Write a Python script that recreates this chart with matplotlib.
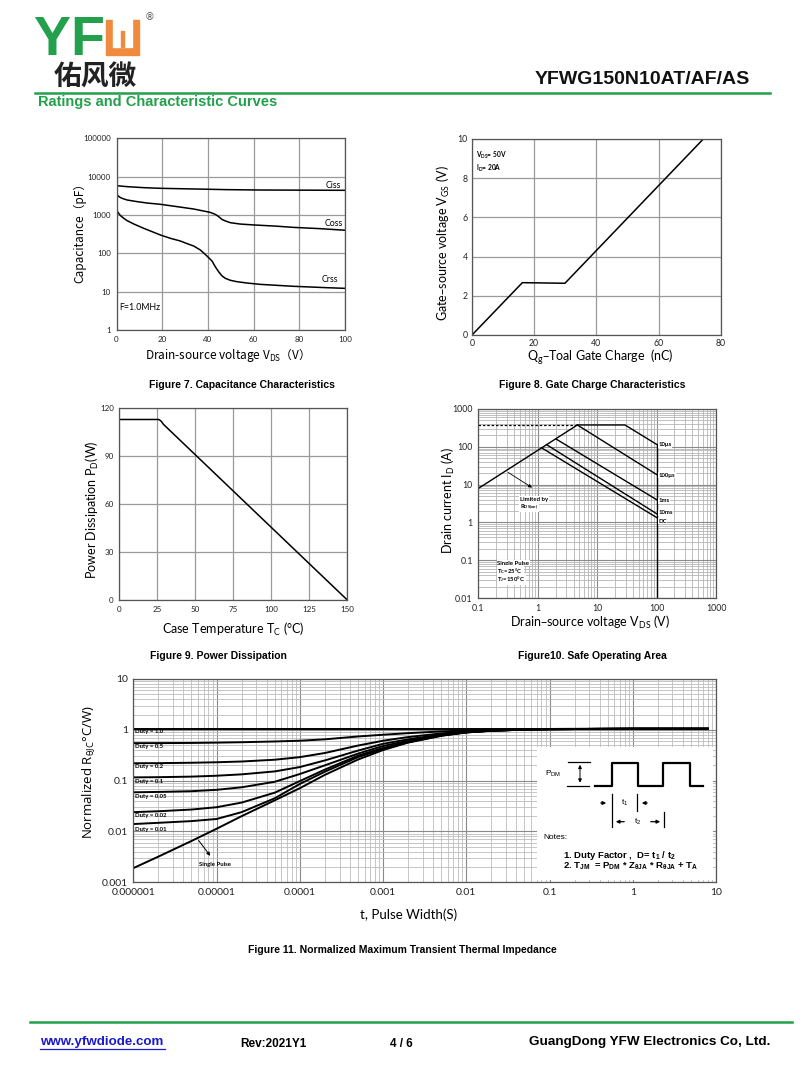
import numpy as np
import matplotlib
matplotlib.use('Agg')
import matplotlib.pyplot as plt
from matplotlib.patches import Rectangle
from matplotlib.lines import Line2D
from matplotlib.ticker import LogLocator, FixedLocator, FixedFormatter, NullFormatter

plt.rcParams['font.family'] = ['Lato', 'DejaVu Sans']
plt.rcParams['mathtext.default'] = 'regular'

# ---------------- data ----------------
# Figure 7: capacitance vs VDS
ciss_v = [0, 4.66, 11.9, 19.2, 33.8, 48.3, 62.9, 100]
ciss_pf = [5820, 5480, 5160, 4960, 4770, 4580, 4480, 4400]
coss_v = [0, 0.58, 1.75, 3.2, 4.66, 9.0, 13.4, 19.2, 26.5, 33.8, 38.1, 41.0, 43.2,
          44.7, 46.1, 47.6, 49.8, 54.1, 60.0, 70.2, 77.4, 89.1, 100]
coss_pf = [3680, 3190, 2830, 2620, 2460, 2230, 2050, 1900, 1650, 1430, 1270, 1170, 1040,
           910, 770, 700, 630, 580, 550, 510, 475, 440, 400]
crss_v = [0, 0.58, 1.75, 3.2, 4.66, 7.57, 11.9, 16.3, 19.2, 23.6, 27.9, 30.9, 33.8, 36.7,
          39.6, 41.8, 43.2, 44.7, 46.1, 47.6, 49.8, 52.7, 57.1, 62.9, 77.4, 92, 100]
crss_pf = [1493, 1175, 962, 818, 711, 582, 449, 353, 301, 246, 210, 179, 155, 122,
           85, 63, 45, 33, 26, 22.3, 19.8, 18.2, 16.8, 15.5, 13.8, 12.7, 12.2]
cap_yticks = [1, 10, 100, 1000, 10000, 100000]
cap_yticklabels = ['1', '10', '100', '1000', '10000', '100000']
cap_xticks = [0, 20, 40, 60, 80, 100]

# Figure 8: gate charge
qg_nc = [0, 16.2, 29.9, 74.4]
vgs_v = [0, 2.67, 2.64, 10]
qg_xticks = [0, 20, 40, 60, 80]
qg_yticks = [0, 2, 4, 6, 8, 10]

# Figure 9: power dissipation
tc_c = [0, 26, 27.5, 29, 150]
pd_w = [113, 113, 112, 110, 0]
tc_xticks = [0, 25, 50, 75, 100, 125, 150]
pd_yticks = [0, 30, 60, 90, 120]

# Figure 10: safe operating area
rds_v = [0.1, 4.64]
rds_i = [7.9, 378]
dash_v = [0.1, 4.64]
dash_i = [378, 378]
us10_v = [4.64, 29.4, 100]
us10_i = [378, 378, 116]
us100_v = [4.64, 100]
us100_i = [378, 18.5]
ms1_v = [2.03, 100]
ms1_i = [161, 4.0]
ms10_v = [1.41, 100]
ms10_i = [114, 1.7]
dc_v = [1.16, 100]
dc_i = [94, 1.35]
vlim_v = [100, 100]
vlim_i = [0.01, 116]
soa_labels = ['10μs', '100μs', '1ms', '10ms', 'DC']
soa_label_i = [112, 17.5, 3.7, 1.8, 1.08]
soa_xticks = [0.1, 1, 10, 100, 1000]
soa_xticklabels = ['0.1', '1', '10', '100', '1000']
soa_yticks = [0.01, 0.1, 1, 10, 100, 1000]
soa_yticklabels = ['0.01', '0.1', '1', '10', '100', '1000']

# Figure 11: transient thermal impedance
tp_s = [1e-6, 2e-6, 5e-6, 1e-5, 2e-5, 5e-5, 1e-4, 2e-4, 5e-4, 1e-3, 2e-3, 5e-3,
        1e-2, 2e-2, 5e-2, 0.1, 0.3, 1, 8]
z_d10 = [1.05, 1.05, 1.05, 1.05, 1.05, 1.05, 1.05, 1.05, 1.05, 1.05, 1.05, 1.05,
         1.05, 1.05, 1.05, 1.05, 1.05, 1.05, 1.05]
z_d05 = [0.547, 0.548, 0.552, 0.56, 0.57, 0.59, 0.61, 0.65, 0.74, 0.80, 0.86, 0.93,
         0.97, 1.0, 1.03, 1.04, 1.05, 1.05, 1.05]
z_d02 = [0.22, 0.221, 0.225, 0.23, 0.238, 0.258, 0.29, 0.35, 0.49, 0.61, 0.72, 0.85,
         0.93, 0.98, 1.02, 1.03, 1.04, 1.05, 1.05]
z_d01 = [0.116, 0.117, 0.12, 0.125, 0.133, 0.152, 0.185, 0.25, 0.39, 0.53, 0.65, 0.81,
         0.91, 0.97, 1.01, 1.03, 1.04, 1.05, 1.05]
z_d005 = [0.059, 0.060, 0.062, 0.066, 0.074, 0.095, 0.135, 0.20, 0.34, 0.48, 0.61, 0.79,
          0.90, 0.96, 1.01, 1.03, 1.04, 1.05, 1.05]
z_d002 = [0.024, 0.025, 0.027, 0.030, 0.037, 0.058, 0.098, 0.165, 0.31, 0.44, 0.58, 0.78,
          0.89, 0.96, 1.01, 1.03, 1.04, 1.05, 1.05]
z_d001 = [0.014, 0.0148, 0.016, 0.0176, 0.024, 0.045, 0.086, 0.15, 0.29, 0.42, 0.57, 0.77,
          0.89, 0.96, 1.01, 1.03, 1.04, 1.05, 1.05]
z_single = [0.0019, 0.0032, 0.0065, 0.0113, 0.020, 0.041, 0.071, 0.13, 0.26, 0.40, 0.56,
            0.76, 0.89, 0.96, 1.01, 1.03, 1.04, 1.05, 1.05]
duty_labels = ['Duty = 1.0', 'Duty = 0.5', 'Duty = 0.2', 'Duty = 0.1',
               'Duty = 0.05', 'Duty = 0.02', 'Duty = 0.01']
duty_label_y = [0.93, 0.48, 0.19, 0.097, 0.049, 0.0205, 0.0108]
zth_xticks = [1e-6, 1e-5, 1e-4, 1e-3, 1e-2, 1e-1, 1, 10]
zth_xticklabels = ['0.000001', '0.00001', '0.0001', '0.001', '0.01', '0.1', '1', '10']
zth_yticks = [0.001, 0.01, 0.1, 1, 10]
zth_yticklabels = ['0.001', '0.01', '0.1', '1', '10']

# ---------------- figure ----------------
W, H = 800, 1081
fig = plt.figure(figsize=(8, 10.81), dpi=100)
GREEN = '#22A04B'
ORANGE = '#F08A3C'
GRID = '#9a9a9a'
CAP_FONT = 'Liberation Sans'


def axpx(l, t, r, b):
    return fig.add_axes([l / W, 1 - b / H, (r - l) / W, (b - t) / H])


def ftxt(x, y, s, **kw):
    return fig.text(x / W, 1 - y / H, s, **kw)


def style(ax, size, pad=4):
    for s in ax.spines.values():
        s.set_color('#555555')
        s.set_linewidth(0.9)
    ax.tick_params(which='both', length=0, labelsize=size, pad=pad, colors='#222222')
    ax.set_axisbelow(True)


# ---- header ----
ftxt(33, 55, '$YF$', fontsize=40, fontweight='bold', color=GREEN, family=CAP_FONT,
     ha='left', va='baseline')
fig.add_artist(Rectangle((106 / W, 1 - 55 / H), 33 / W, 35 / H, color=ORANGE,
                         transform=fig.transFigure))
fig.add_artist(Rectangle((113 / W, 1 - 47 / H), 19 / W, 28 / H, color='white',
                         transform=fig.transFigure))
fig.add_artist(Rectangle((121 / W, 1 - 47 / H), 3 / W, 16 / H, color=ORANGE,
                         transform=fig.transFigure))
ftxt(150, 17, '®', fontsize=7, color='#555555', ha='center', va='center', family='DejaVu Sans')
ftxt(95, 78, '佑风微', fontsize=20, fontweight='bold', family='Noto Sans CJK SC',
     ha='center', va='center', color='#222222')
ftxt(750, 80, 'YFWG150N10AT/AF/AS', fontsize=14, fontweight='bold', family=CAP_FONT,
     ha='right', va='center', color='#111111')
fig.add_artist(Line2D([35 / W, 770 / W], [1 - 92.5 / H, 1 - 92.5 / H], color=GREEN, lw=1.8))
ftxt(38, 102, 'Ratings and Characteristic Curves', fontsize=10.5, fontweight='bold',
     family=CAP_FONT, color=GREEN, ha='left', va='center')

# ---- Figure 7 ----
ax7 = axpx(116.5, 138.3, 345, 330)
ax7.semilogy(ciss_v, ciss_pf, color='black', lw=1.1)
ax7.semilogy(coss_v, coss_pf, color='black', lw=1.1)
ax7.semilogy(crss_v, crss_pf, color='black', lw=1.1)
ax7.set_xlim(0, 100)
ax7.set_ylim(1, 100000)
ax7.yaxis.set_major_locator(FixedLocator(cap_yticks))
ax7.yaxis.set_major_formatter(FixedFormatter(cap_yticklabels))
ax7.yaxis.set_minor_locator(FixedLocator([]))
ax7.set_xticks(cap_xticks)
ax7.grid(True, which='major', color=GRID, lw=0.9)
style(ax7, 5.8)
ax7.text(95, 6000, 'Ciss', fontsize=6.3, ha='center', va='center')
ax7.text(95, 604, 'Coss', fontsize=6.3, ha='center', va='center')
ax7.text(93.5, 21, 'Crss', fontsize=6.3, ha='center', va='center')
ax7.text(1, 3.8, 'F=1.0MHz', fontsize=6.3, ha='left', va='center')
ftxt(80, 230, 'Capacitance（pF）', fontsize=8.5, rotation=90, ha='center', va='center',
     family='Noto Sans CJK SC')
ftxt(225, 355, 'Drain-source voltage V$_{DS}$（V）', fontsize=8.5, ha='center', va='center',
     family='Noto Sans CJK SC')
ftxt(242, 385, 'Figure 7. Capacitance Characteristics', fontsize=7.5, fontweight='bold',
     family=CAP_FONT, ha='center', va='center')

# ---- Figure 8 ----
ax8 = axpx(472, 139, 720.7, 335)
ax8.plot(qg_nc, vgs_v, color='black', lw=1.1)
ax8.set_xlim(0, 80)
ax8.set_ylim(0, 10)
ax8.set_xticks(qg_xticks)
ax8.set_yticks(qg_yticks)
ax8.grid(True, color=GRID, lw=0.9)
style(ax8, 6.3, pad=3)
ax8.text(1.4, 9.15, 'V$_{DS}$= 50V', fontsize=4.8, fontweight='bold', ha='left', va='center')
ax8.text(1.4, 8.5, 'I$_{D}$= 20A', fontsize=4.8, fontweight='bold', ha='left', va='center')
ftxt(443, 243, 'Gate–source voltage V$_{GS}$ (V)', fontsize=9, rotation=90, ha='center',
     va='center')
ftxt(600, 357, 'Q$_{g}$–Toal Gate Charge  (nC)', fontsize=9, ha='center', va='center')
ftxt(592, 385, 'Figure 8. Gate Charge Characteristics', fontsize=7.5, fontweight='bold',
     family=CAP_FONT, ha='center', va='center')

# ---- Figure 9 ----
ax9 = axpx(119.3, 408.3, 347.3, 600)
ax9.plot(tc_c, pd_w, color='black', lw=1.1)
ax9.set_xlim(0, 150)
ax9.set_ylim(0, 120)
ax9.set_xticks(tc_xticks)
ax9.set_yticks(pd_yticks)
ax9.grid(True, color=GRID, lw=0.9)
style(ax9, 5.8)
ftxt(92, 510, 'Power Dissipation P$_{D}$(W)', fontsize=9, rotation=90, ha='center',
     va='center')
ftxt(233, 629, 'Case Temperature T$_{C}$ (°C)', fontsize=9, ha='center', va='center')
ftxt(218, 656, 'Figure 9. Power Dissipation', fontsize=7.5, fontweight='bold',
     family=CAP_FONT, ha='center', va='center')

# ---- Figure 10 ----
ax10 = axpx(478.3, 409, 716, 598)
ax10.set_xscale('log')
ax10.set_yscale('log')
for xs, ys in [(rds_v, rds_i), (us10_v, us10_i), (us100_v, us100_i), (ms1_v, ms1_i),
               (ms10_v, ms10_i), (dc_v, dc_i), (vlim_v, vlim_i)]:
    ax10.plot(xs, ys, color='black', lw=1.0)
ax10.plot(dash_v, dash_i, color='black', lw=0.9, ls=(0, (2, 1.5)))
ax10.set_xlim(0.1, 1000)
ax10.set_ylim(0.01, 1000)
ax10.xaxis.set_major_locator(FixedLocator(soa_xticks))
ax10.xaxis.set_major_formatter(FixedFormatter(soa_xticklabels))
ax10.yaxis.set_major_locator(FixedLocator(soa_yticks))
ax10.yaxis.set_major_formatter(FixedFormatter(soa_yticklabels))
ax10.xaxis.set_minor_locator(LogLocator(base=10, subs=np.arange(2, 10)))
ax10.yaxis.set_minor_locator(LogLocator(base=10, subs=np.arange(2, 10)))
ax10.xaxis.set_minor_formatter(NullFormatter())
ax10.yaxis.set_minor_formatter(NullFormatter())
ax10.grid(True, which='major', color='#8a8a8a', lw=0.8)
ax10.grid(True, which='minor', color='#b5b5b5', lw=0.6)
style(ax10, 6.3)
for lab, yi in zip(soa_labels, soa_label_i):
    ax10.text(108, yi, lab, fontsize=4.3, fontweight='bold', ha='left', va='center',
              bbox=dict(facecolor='white', edgecolor='none', pad=0.3))
ax10.annotate('', xy=(0.88, 7.6), xytext=(0.29, 23),
              arrowprops=dict(arrowstyle='-|>', color='black', lw=0.6, mutation_scale=5))
ax10.text(0.5, 4.1, 'Limited by', fontsize=4.3, fontweight='bold', ha='left', va='center',
          bbox=dict(facecolor='white', edgecolor='none', pad=0.5))
ax10.text(0.5, 2.55, 'R$_{DS(on)}$', fontsize=4.3, fontweight='bold', ha='left', va='center',
          bbox=dict(facecolor='white', edgecolor='none', pad=0.5))
ax10.text(0.21, 0.083, 'Single Pulse', fontsize=4.3, fontweight='bold', ha='left',
          va='center', bbox=dict(facecolor='white', edgecolor='none', pad=0.5))
ax10.text(0.21, 0.052, 'T$_{C}$=25°C', fontsize=4.3, fontweight='bold', ha='left',
          va='center', bbox=dict(facecolor='white', edgecolor='none', pad=0.5))
ax10.text(0.21, 0.032, 'T$_{J}$=150°C', fontsize=4.3, fontweight='bold', ha='left',
          va='center', bbox=dict(facecolor='white', edgecolor='none', pad=0.5))
ftxt(448, 500, 'Drain current I$_{D}$ (A)', fontsize=9, rotation=90, ha='center',
     va='center')
ftxt(590, 622, 'Drain–source voltage V$_{DS}$ (V)', fontsize=9, ha='center', va='center')
ftxt(592, 656, 'Figure10. Safe Operating Area', fontsize=7.5, fontweight='bold',
     family=CAP_FONT, ha='center', va='center')

# ---- Figure 11 ----
ax11 = axpx(133.3, 679, 716, 882.3)
ax11.set_xscale('log')
ax11.set_yscale('log')
for zs in [z_d10, z_d05, z_d02, z_d01, z_d005, z_d002, z_d001, z_single]:
    ax11.plot(tp_s, zs, color='black', lw=1.4)
ax11.set_xlim(1e-6, 10)
ax11.set_ylim(0.001, 10)
ax11.xaxis.set_major_locator(FixedLocator(zth_xticks))
ax11.xaxis.set_major_formatter(FixedFormatter(zth_xticklabels))
ax11.yaxis.set_major_locator(FixedLocator(zth_yticks))
ax11.yaxis.set_major_formatter(FixedFormatter(zth_yticklabels))
ax11.xaxis.set_minor_locator(LogLocator(base=10, subs=np.arange(2, 10)))
ax11.yaxis.set_minor_locator(LogLocator(base=10, subs=np.arange(2, 10)))
ax11.xaxis.set_minor_formatter(NullFormatter())
ax11.yaxis.set_minor_formatter(NullFormatter())
ax11.grid(True, which='major', color='#8a8a8a', lw=0.8)
ax11.grid(True, which='minor', color='#bdbdbd', lw=0.6)
style(ax11, 7.5)
for lab, yl in zip(duty_labels, duty_label_y):
    ax11.text(1.05e-6, yl, lab, fontsize=4.3, fontweight='bold', ha='left', va='center')
ax11.annotate('', xy=(8.8e-6, 0.0030), xytext=(5.8e-6, 0.0074),
              arrowprops=dict(arrowstyle='-|>', color='black', lw=0.7, mutation_scale=5))
ax11.text(9.6e-6, 0.0022, 'Single Pulse', fontsize=4.3, fontweight='bold', ha='center',
          va='center')
ftxt(88, 772, 'Normalized R$_{θJC}$°C/W)', fontsize=9.5, rotation=90, ha='center',
     va='center', family='Open Sans')
ftxt(409, 915, 't, Pulse Width(S)', fontsize=9.5, ha='center', va='center')
ftxt(402, 950, 'Figure 11. Normalized Maximum Transient Thermal Impedance', fontsize=7.5,
     fontweight='bold', family=CAP_FONT, ha='center', va='center')

# inset diagram (page-pixel coordinates)
axi = axpx(537, 747, 713, 880)
axi.set_xlim(537, 713)
axi.set_ylim(880, 747)
axi.set_xticks([])
axi.set_yticks([])
for s in axi.spines.values():
    s.set_visible(False)
axi.set_facecolor('white')
wave_x = [595, 611.7, 611.7, 638.3, 638.3, 663.3, 663.3, 690, 690, 703.3]
wave_y = [786, 786, 762.7, 762.7, 786, 786, 762.7, 762.7, 786, 786]
axi.plot(wave_x, wave_y, color='black', lw=1.6)
axi.plot([568, 590], [761.7, 761.7], color='black', lw=0.9)
axi.plot([567, 589], [785.7, 785.7], color='black', lw=0.9)
axi.annotate('', xy=(580, 762), xytext=(580, 785.5),
             arrowprops=dict(arrowstyle='<|-|>', color='black', lw=0.7, mutation_scale=5))
axi.text(545, 774, 'P$_{DM}$', fontsize=6, family=CAP_FONT, ha='left', va='center')
axi.plot([611.7, 611.7], [794, 826.7], color='black', lw=0.9)
axi.plot([636.7, 636.7], [794, 811], color='black', lw=0.9)
axi.plot([664.3, 664.3], [812, 826.7], color='black', lw=0.9)
axi.annotate('', xy=(609, 803), xytext=(598, 803),
             arrowprops=dict(arrowstyle='-|>', color='black', lw=0.9, mutation_scale=5))
axi.annotate('', xy=(639, 803), xytext=(650, 803),
             arrowprops=dict(arrowstyle='-|>', color='black', lw=0.9, mutation_scale=5))
axi.text(624.5, 803, 't$_{1}$', fontsize=6, family=CAP_FONT, ha='center', va='center')
axi.annotate('', xy=(613, 821.7), xytext=(627, 821.7),
             arrowprops=dict(arrowstyle='-|>', color='black', lw=0.9, mutation_scale=5))
axi.annotate('', xy=(663, 821.7), xytext=(648, 821.7),
             arrowprops=dict(arrowstyle='-|>', color='black', lw=0.9, mutation_scale=5))
axi.text(638, 821.7, 't$_{2}$', fontsize=6, family=CAP_FONT, ha='center', va='center')
axi.text(543, 837.7, 'Notes:', fontsize=6, family=CAP_FONT, ha='left', va='center')
axi.text(563, 855, '1. Duty Factor ,  D= t$_{1}$ / t$_{2}$', fontsize=6.8, fontweight='bold',
         family=CAP_FONT, ha='left', va='center')
axi.text(563, 866.7, '2. T$_{JM}$  = P$_{DM}$ * Z$_{θJA}$ * R$_{θJA}$ + T$_{A}$', fontsize=6.8,
         fontweight='bold', family=CAP_FONT, ha='left', va='center')

# ---- footer ----
fig.add_artist(Line2D([30 / W, 792 / W], [1 - 1022 / H, 1 - 1022 / H], color=GREEN, lw=1.8))
ftxt(40, 1042, 'www.yfwdiode.com', fontsize=9.6, fontweight='bold', family=CAP_FONT,
     color='#1a1aCC', ha='left', va='center')
fig.add_artist(Line2D([40 / W, 165 / W], [1 - 1049 / H, 1 - 1049 / H], color='#1a1aCC', lw=0.9))
ftxt(240, 1044, 'Rev:2021Y1', fontsize=8.5, fontweight='bold', family=CAP_FONT,
     ha='left', va='center')
ftxt(390, 1044, '4 / 6', fontsize=8.5, fontweight='bold', family=CAP_FONT,
     ha='left', va='center')
ftxt(770, 1042, 'GuangDong YFW Electronics Co, Ltd.', fontsize=9.7, fontweight='bold',
     family=CAP_FONT, ha='right', va='center')

fig.savefig('out.png', dpi=100, facecolor='white')
